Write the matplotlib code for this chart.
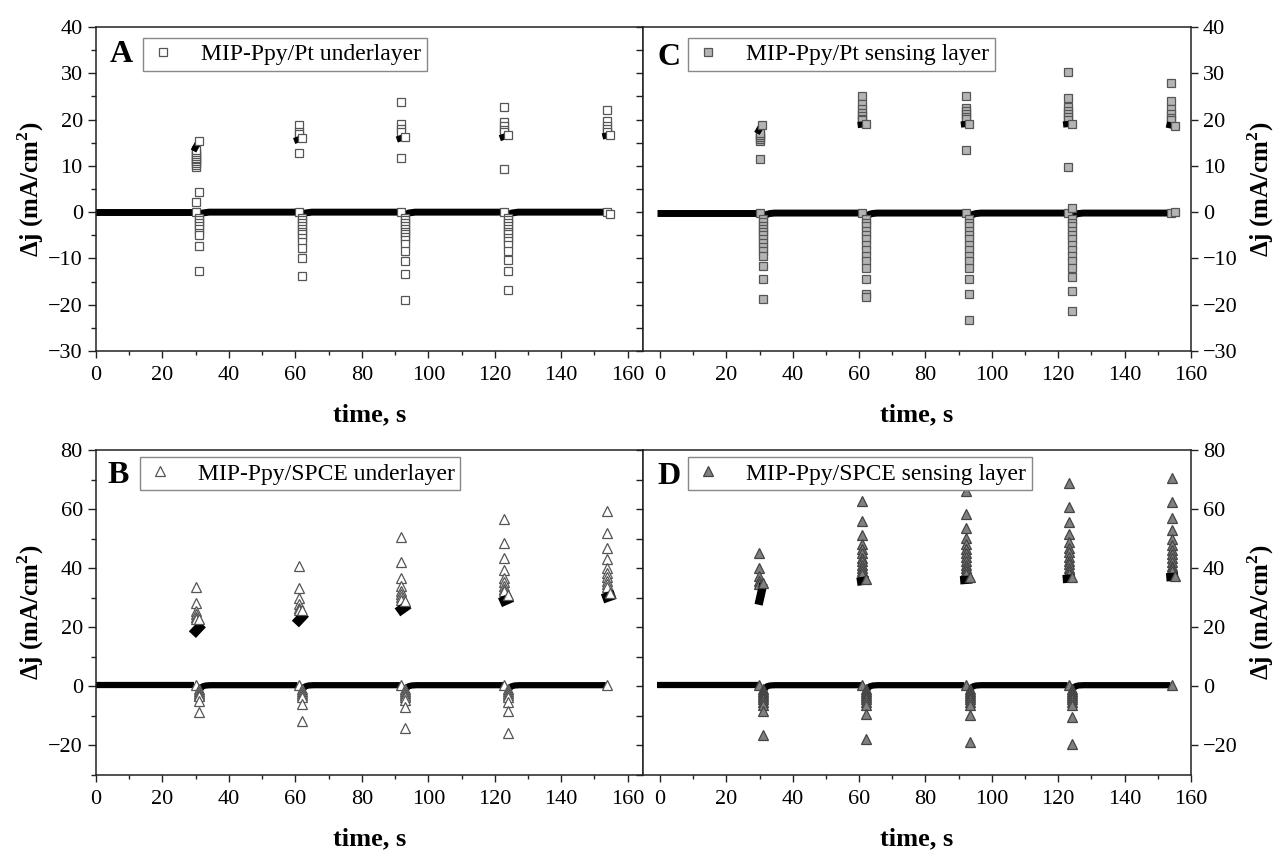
import matplotlib
matplotlib.use('Agg')
import matplotlib.pyplot as plt
from matplotlib.ticker import MultipleLocator
from matplotlib.lines import Line2D

plt.rcParams['font.family'] = ['Liberation Serif', 'DejaVu Serif']
plt.rcParams['mathtext.fontset'] = 'custom'
plt.rcParams['mathtext.rm'] = 'Liberation Serif:bold'
plt.rcParams['mathtext.bf'] = 'Liberation Serif:bold'

# ---------------- Panel A: MIP-Ppy/Pt underlayer ----------------
A_pulse_t = [30.0, 61.0, 91.9, 122.9, 153.8]
A_pos = [[2.2, 9.7, 10.2, 10.6, 11.0, 11.4, 11.8, 12.2, 12.6, 13.0, 13.4],
         [18.8, 17.4, 16.8, 12.7],
         [23.8, 19.0, 17.9, 17.3, 11.8],
         [22.8, 19.5, 18.6, 17.8, 17.3, 9.4],
         [22.1, 19.7, 18.6, 17.9, 17.4]]
A_clus_t0 = [29.8, 60.5, 91.4, 122.4, 153.3]
A_clus_y0 = [13.8, 15.6, 15.9, 16.2, 16.5]
A_clus_t1 = [30.7, 61.6, 92.6, 123.6, 154.5]
A_clus_y1 = [15.0, 15.9, 16.2, 16.5, 16.7]
A_end_t = [31.0, 61.9, 93.0, 124.0, 154.8]
A_end_y = [15.4, 16.0, 16.3, 16.6, 16.7]
A_neg_t = [31.0, 61.9, 93.0, 124.0, 154.8]
A_neg = [[4.4, -1.2, -1.8, -2.4, -3.0, -3.7, -4.4, -5.0, -7.3, -12.7],
         [-1.2, -1.8, -2.4, -3.0, -3.6, -4.2, -4.8, -5.5, -6.5, -7.7, -9.8, -13.9],
         [-1.2, -1.8, -2.4, -3.0, -3.6, -4.2, -4.8, -5.4, -6.0, -6.8, -8.4, -10.5, -13.4, -19.0],
         [-1.2, -1.8, -2.4, -3.0, -3.6, -4.2, -4.8, -5.5, -6.3, -7.2, -8.4, -10.3, -12.8, -16.9],
         [-0.5]]
A_base = 0.0
A_start = -1.0
A_hook_dt = [0.0, 0.1, 0.4, 1.0, 2.0, 3.0]
A_hook_y = [-2.0, -1.0, -0.5, -0.2, -0.1, 0.0]

# ---------------- Panel C: MIP-Ppy/Pt sensing layer ----------------
C_pulse_t = [30.0, 61.0, 92.1, 122.9, 154.0]
C_pos = [[11.5, 15.4, 15.8, 16.2, 16.6, 17.0],
         [25.2, 23.3, 22.2, 21.4, 20.8, 20.2, 19.8],
         [25.0, 22.6, 21.9, 21.2, 20.6, 20.1, 13.4],
         [30.2, 24.7, 22.7, 21.9, 21.2, 20.5, 20.0, 9.8],
         [28.0, 24.0, 22.2, 21.1, 20.4, 19.9]]
C_clus_t0 = [29.7, 60.5, 91.6, 122.4, 153.5]
C_clus_y0 = [17.6, 18.9, 19.0, 19.0, 18.8]
C_clus_t1 = [30.6, 61.7, 92.8, 123.7, 154.7]
C_clus_y1 = [18.7, 19.0, 19.1, 19.1, 18.6]
C_end_t = [30.9, 62.0, 93.2, 124.1, 155.1]
C_end_y = [18.9, 19.0, 19.1, 19.1, 18.6]
C_neg_t = [31.1, 62.0, 93.2, 124.1, 155.1]
C_neg = [[-1.5, -2.2, -2.9, -3.6, -4.3, -5.0, -5.8, -6.6, -7.5, -8.4, -9.5, -11.6, -14.4, -18.7],
         [-1.5, -2.3, -3.1, -4.0, -4.9, -5.9, -7.0, -8.2, -9.4, -10.5, -12.0, -14.4, -17.7, -18.3],
         [-1.5, -2.3, -3.1, -4.0, -4.9, -5.9, -7.0, -8.2, -9.4, -10.5, -12.0, -14.4, -17.6, -23.3],
         [1.0, -1.5, -2.3, -3.1, -4.0, -4.9, -5.9, -7.0, -8.2, -9.4, -10.5, -12.0, -14.0, -17.0, -21.4],
         [0.0]]
C_base = -0.2
C_start = -0.8
C_hook_dt = [0.0, 0.1, 0.4, 1.0, 2.0, 3.5]
C_hook_y = [-4.0, -2.0, -0.9, -0.5, -0.3, -0.2]

# ---------------- Panel B: MIP-Ppy/SPCE underlayer ----------------
B_pulse_t = [30.0, 61.0, 91.9, 122.9, 153.8]
B_pos = [[33.8, 28.3, 25.5, 24.4, 23.6, 22.9],
         [40.6, 33.4, 30.0, 27.8, 26.6, 25.8],
         [50.5, 42.0, 36.8, 34.0, 32.3, 31.2, 30.2, 29.4],
         [56.6, 48.5, 43.3, 39.5, 36.8, 35.2, 34.0, 33.0, 32.2],
         [59.5, 51.9, 46.9, 43.1, 40.2, 38.5, 37.0, 35.8, 34.7, 33.7]]
B_clus_t0 = [30.0, 61.0, 91.9, 122.9, 153.8]
B_clus_y0 = [18.7, 22.3, 26.0, 29.0, 30.2]
B_clus_t1 = [31.0, 62.0, 92.9, 123.9, 154.8]
B_clus_y1 = [19.9, 23.5, 26.8, 29.5, 30.6]
B_end_t = [31.1, 62.0, 93.0, 124.0, 154.8]
B_end_y = [22.7, 26.0, 28.9, 31.0, 31.7]
B_neg_t = [31.1, 62.0, 93.0, 124.0, 154.8]
B_neg = [[-1.0, -1.6, -2.2, -2.8, -3.4, -4.9, -8.8],
         [-1.0, -1.6, -2.2, -2.8, -3.5, -6.0, -11.6],
         [-1.0, -1.6, -2.2, -2.8, -3.5, -4.5, -7.1, -14.0],
         [-1.0, -1.6, -2.2, -2.8, -3.5, -5.4, -8.5, -15.9],
         []]
B_base = 0.4
B_start = -1.0
B_hook_dt = [0.0, 0.1, 0.4, 1.0, 2.0, 3.5]
B_hook_y = [-3.0, -1.6, -0.6, 0.0, 0.3, 0.4]

# ---------------- Panel D: MIP-Ppy/SPCE sensing layer ----------------
D_pulse_t = [29.9, 61.0, 92.1, 123.2, 154.2]
D_pos = [[45.0, 40.2, 37.3, 35.7, 34.5],
         [62.8, 55.9, 51.4, 48.2, 46.5, 45.0, 43.6, 42.3, 41.1, 40.0, 39.0, 38.0],
         [66.0, 58.4, 53.5, 50.2, 48.2, 46.6, 45.1, 43.7, 42.4, 41.2, 40.1, 39.1, 38.2],
         [68.9, 60.7, 55.6, 51.6, 48.8, 47.0, 45.4, 43.9, 42.5, 41.3, 40.1, 39.1, 38.2],
         [70.5, 62.4, 56.9, 52.9, 49.9, 48.0, 46.3, 44.8, 43.4, 42.1, 40.9, 39.9, 39.0]]
D_clus_t0 = [30.0, 60.6, 91.7, 122.6, 153.8]
D_clus_y0 = [29.0, 35.6, 36.0, 36.4, 37.0]
D_clus_t1 = [30.9, 61.8, 92.9, 123.8, 154.9]
D_clus_y1 = [33.5, 35.8, 36.1, 36.5, 37.1]
D_end_t = [31.1, 62.2, 93.3, 124.1, 155.1]
D_end_y = [35.1, 36.3, 36.9, 37.1, 37.3]
D_neg_t = [31.2, 62.2, 93.3, 124.1, 155.1]
D_neg = [[-0.8, -1.5, -2.2, -2.9, -3.6, -4.4, -5.3, -6.2, -8.5, -16.4],
         [-0.8, -1.5, -2.2, -2.9, -3.6, -4.4, -5.3, -6.2, -9.3, -17.7],
         [-0.8, -1.5, -2.2, -2.9, -3.6, -4.4, -5.3, -6.2, -9.6, -18.7],
         [-0.8, -1.5, -2.2, -2.9, -3.6, -4.4, -5.3, -6.2, -10.5, -19.6],
         []]
D_base = 0.4
D_start = -0.8
D_hook_dt = [0.0, 0.1, 0.4, 1.0, 2.0, 3.5]
D_hook_y = [-3.5, -1.8, -0.7, 0.0, 0.3, 0.4]

labels = ['MIP-Ppy/Pt underlayer', 'MIP-Ppy/Pt sensing layer',
          'MIP-Ppy/SPCE underlayer', 'MIP-Ppy/SPCE sensing layer']
letters = ['A', 'C', 'B', 'D']

fig = plt.figure(figsize=(12.74, 8.5), dpi=100)
W, H = 1274.0, 850.0


def rect(x0, y0, x1, y1):
    return [x0 / W, 1 - y1 / H, (x1 - x0) / W, (y1 - y0) / H]


axA = fig.add_axes(rect(96, 27, 643, 351))
axC = fig.add_axes(rect(643, 27, 1191, 351))
axB = fig.add_axes(rect(96, 450, 643, 775))
axD = fig.add_axes(rect(643, 450, 1191, 775))


def draw(ax, pulse_t, pos, ct0, cy0, ct1, cy1, et, ey, neg_t, neg, base, start,
         hdt, hy, marker, mfc, mec, ms, band_lw, clus_lw):
    # dense baseline band (overlapping markers) with recovery hooks
    ax.plot([start, pulse_t[0] - 0.4], [base, base], color='black', lw=band_lw,
            solid_capstyle='butt', zorder=2)
    for i in range(len(pulse_t) - 1):
        tt = [neg_t[i] + d for d in hdt] + [pulse_t[i + 1] - 0.4]
        yy = list(hy) + [base]
        ax.plot(tt, yy, color='black', lw=band_lw, solid_capstyle='butt',
                solid_joinstyle='round', zorder=2)
    kw = dict(ls='none', marker=marker, mfc=mfc, mec=mec, ms=ms, mew=0.9, zorder=3)
    for i in range(len(pulse_t)):
        ax.plot([pulse_t[i]] * (len(pos[i]) + 1), [base] + pos[i], **kw)
        if neg[i]:
            ax.plot([neg_t[i]] * len(neg[i]), neg[i], **kw)
    # dense clusters of overlapping markers
    for i in range(len(pulse_t)):
        ax.plot([ct0[i], ct1[i]], [cy0[i], cy1[i]], color='black', lw=clus_lw,
                solid_capstyle='projecting', zorder=3.5)
    kw['zorder'] = 4
    ax.plot(et, ey, **kw)


draw(axA, A_pulse_t, A_pos, A_clus_t0, A_clus_y0, A_clus_t1, A_clus_y1, A_end_t, A_end_y,
     A_neg_t, A_neg, A_base, A_start, A_hook_dt, A_hook_y, 's', 'white', '#555555', 6, 5, 4.5)
draw(axC, C_pulse_t, C_pos, C_clus_t0, C_clus_y0, C_clus_t1, C_clus_y1, C_end_t, C_end_y,
     C_neg_t, C_neg, C_base, C_start, C_hook_dt, C_hook_y, 's', '#b4b4b4', '#555555', 6, 5, 4.5)
draw(axB, B_pulse_t, B_pos, B_clus_t0, B_clus_y0, B_clus_t1, B_clus_y1, B_end_t, B_end_y,
     B_neg_t, B_neg, B_base, B_start, B_hook_dt, B_hook_y, '^', 'white', '#555555', 7, 4.5, 7)
draw(axD, D_pulse_t, D_pos, D_clus_t0, D_clus_y0, D_clus_t1, D_clus_y1, D_end_t, D_end_y,
     D_neg_t, D_neg, D_base, D_start, D_hook_dt, D_hook_y, '^', '#808080', '#444444', 7, 4.5, 6)

styles = [('s', 'white', '#555555', 6), ('s', '#b4b4b4', '#555555', 6),
          ('^', 'white', '#555555', 7), ('^', '#808080', '#444444', 7)]
legend_pos = [(0.086, 0.966), (0.082, 0.966), (0.080, 0.978), (0.082, 0.978)]
letter_pos = [(0.046, 0.914), (0.047, 0.907), (0.040, 0.923), (0.047, 0.917)]

for k, ax in enumerate([axA, axC, axB, axD]):
    top = k < 2
    right = k % 2 == 1
    if right:
        ax.set_xlim(-5.1, 160)
    else:
        ax.set_xlim(0, 164.6)
    if top:
        ax.set_ylim(-30, 40)
        ax.yaxis.set_major_locator(MultipleLocator(10))
        ax.yaxis.set_minor_locator(MultipleLocator(5))
    else:
        ax.set_ylim(-30, 80)
        ax.yaxis.set_major_locator(MultipleLocator(20))
        ax.yaxis.set_minor_locator(MultipleLocator(10))
    ax.xaxis.set_major_locator(MultipleLocator(20))
    ax.xaxis.set_minor_locator(MultipleLocator(10))
    for s in ax.spines.values():
        s.set_linewidth(1.1)
        s.set_color('#222222')
    ax.tick_params(axis='both', which='both', direction='out', top=False,
                   labelsize=16, width=1.0, color='#222222')
    ax.tick_params(which='major', length=6)
    ax.tick_params(which='minor', length=3.5)
    ax.tick_params(axis='x', which='major', length=5, pad=6)
    ax.tick_params(axis='x', which='minor', length=3)
    if right:
        ax.tick_params(axis='y', left=True, right=True, labelleft=False, labelright=True)
        ax.yaxis.set_label_position('right')
        ax.tick_params(axis='y', which='both', length=5)
        ylpad = 6
    else:
        ax.tick_params(axis='y', left=True, right=False)
        ylpad = 1.5
    ax.set_xlabel('time, s', fontsize=19, fontweight='bold', labelpad=13)
    ax.set_ylabel('Δj (mA/cm$^{2}$)', fontsize=18, fontweight='bold', labelpad=ylpad)

    m, fc, ec, ms = styles[k]
    h = Line2D([], [], ls='none', marker=m, mfc=fc, mec=ec, ms=ms, mew=0.9)
    leg = ax.legend([h], [labels[k]], loc='upper left', bbox_to_anchor=legend_pos[k],
                    frameon=True, fancybox=False, framealpha=1, edgecolor='#888888',
                    fontsize=17, handlelength=1.2, handletextpad=1.0, borderpad=0.25,
                    borderaxespad=0)
    leg.get_frame().set_linewidth(1.0)
    leg.set_zorder(5)
    ax.text(letter_pos[k][0], letter_pos[k][1], letters[k], transform=ax.transAxes,
            fontsize=23, fontweight='bold', ha='center', va='center', zorder=6)

fig.savefig('out.png', dpi=100)
